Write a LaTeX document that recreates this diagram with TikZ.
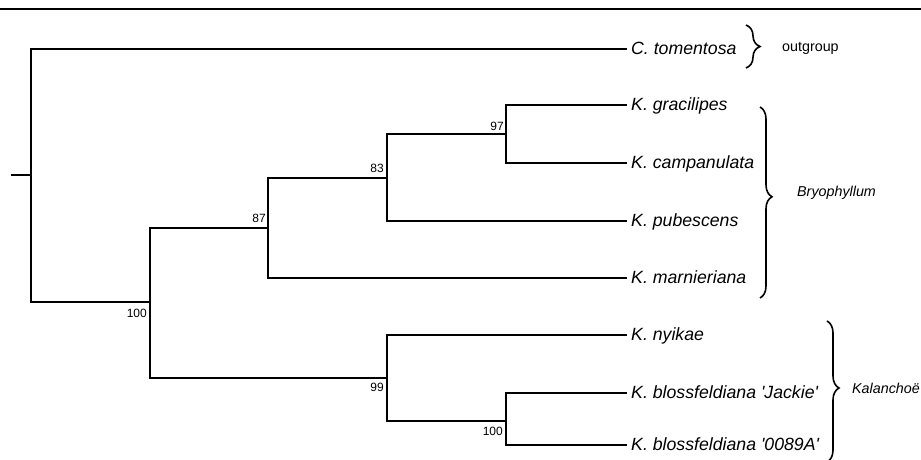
\documentclass[tikz,border=0pt]{standalone}
\usepackage{fontspec}
\setmainfont{Liberation Sans}
\usetikzlibrary{decorations.pathreplacing}
\begin{document}
\begin{tikzpicture}[x=1pt,y=-1pt,
  branch/.style={line width=1.6pt,line cap=rect},
  taxon/.style={anchor=base west,inner sep=0pt,font=\itshape\fontsize{17.7}{20}\selectfont},
  support/.style={anchor=east,inner sep=0pt,font=\fontsize{12}{14}\selectfont},
  grouplbl/.style={anchor=west,inner sep=0pt,font=\fontsize{14.3}{16}\selectfont},
  bracegrp/.style={line width=1.6pt,decorate,decoration={brace,amplitude=#1}}]
\useasboundingbox (0,0) rectangle (921,459);
\draw[line width=2.4pt] (0,9) -- (921,9);
% internal nodes
\coordinate (stub) at (12,175);
\coordinate (root) at (31,175);
\coordinate (rootT) at (31,49);
\coordinate (rootB) at (31,302);
\coordinate (n100a) at (150,302);
\coordinate (n100aT) at (150,228);
\coordinate (n100aB) at (150,378);
\coordinate (n87) at (268,228);
\coordinate (n87T) at (268,178);
\coordinate (n87B) at (268,278);
\coordinate (n83) at (387,178);
\coordinate (n83T) at (387,134);
\coordinate (n83B) at (387,221);
\coordinate (n97) at (506,134);
\coordinate (n97T) at (506,105);
\coordinate (n97B) at (506,163);
\coordinate (n99) at (387,378);
\coordinate (n99T) at (387,335);
\coordinate (n99B) at (387,421);
\coordinate (n100b) at (506,421);
\coordinate (n100bT) at (506,393);
\coordinate (n100bB) at (506,445);
% tips
\coordinate (t1) at (626,49);
\coordinate (t2) at (626,105);
\coordinate (t3) at (626,163);
\coordinate (t4) at (626,221);
\coordinate (t5) at (626,278);
\coordinate (t6) at (626,335);
\coordinate (t7) at (626,393);
\coordinate (t8) at (626,445);
% branches
\draw[branch] (stub) -- (root);
\draw[branch] (rootT) -- (rootB);
\draw[branch] (rootT) -- (t1);
\draw[branch] (rootB) -- (n100a);
\draw[branch] (n100aT) -- (n100aB);
\draw[branch] (n100aT) -- (n87);
\draw[branch] (n87T) -- (n87B);
\draw[branch] (n87T) -- (n83);
\draw[branch] (n87B) -- (t5);
\draw[branch] (n83T) -- (n83B);
\draw[branch] (n83T) -- (n97);
\draw[branch] (n83B) -- (t4);
\draw[branch] (n97T) -- (n97B);
\draw[branch] (n97T) -- (t2);
\draw[branch] (n97B) -- (t3);
\draw[branch] (n100aB) -- (n99);
\draw[branch] (n99T) -- (n99B);
\draw[branch] (n99T) -- (t6);
\draw[branch] (n99B) -- (n100b);
\draw[branch] (n100bT) -- (n100bB);
\draw[branch] (n100bT) -- (t7);
\draw[branch] (n100bB) -- (t8);
% taxon labels
\node[taxon] (l1) at (631,54) {C. tomentosa};
\node[taxon] (l2) at (631,110) {K. gracilipes};
\node[taxon] (l3) at (631,168) {K. campanulata};
\node[taxon] (l4) at (631,226) {K. pubescens};
\node[taxon] (l5) at (631,283) {K. marnieriana};
\node[taxon] (l6) at (631,340) {K. nyikae};
\node[taxon] (l7) at (631,398) {K. blossfeldiana \textquotesingle Jackie\textquotesingle};
\node[taxon] (l8) at (631,450) {K. blossfeldiana \textquotesingle 0089A\textquotesingle};
% support values
\node[support] (s1) at (147,313) {100};
\node[support] (s2) at (266,218) {87};
\node[support] (s3) at (384,168) {83};
\node[support] (s4) at (504,126) {97};
\node[support] (s5) at (384,387) {99};
\node[support] (s6) at (503,431) {100};
% braces
\coordinate (b1T) at (746,25);
\coordinate (b1B) at (746,68);
\draw[bracegrp=14pt] (b1T) -- (b1B);
\node[grouplbl] (g1) at (782,48) {outgroup};
\coordinate (b2T) at (760,107);
\coordinate (b2B) at (760,298);
\draw[bracegrp=12pt,decoration={aspect=0.47}] (b2T) -- (b2B);
\node[grouplbl,font=\itshape\fontsize{14.3}{16}\selectfont] (g2) at (797,193) {Bryophyllum};
\coordinate (b3T) at (827,321);
\coordinate (b3B) at (827,462);
\draw[bracegrp=12pt,decoration={aspect=0.475}] (b3T) -- (b3B);
\node[grouplbl,font=\itshape\fontsize{14.3}{16}\selectfont] (g3) at (852,388) {Kalanchoë};
\end{tikzpicture}
\end{document}
